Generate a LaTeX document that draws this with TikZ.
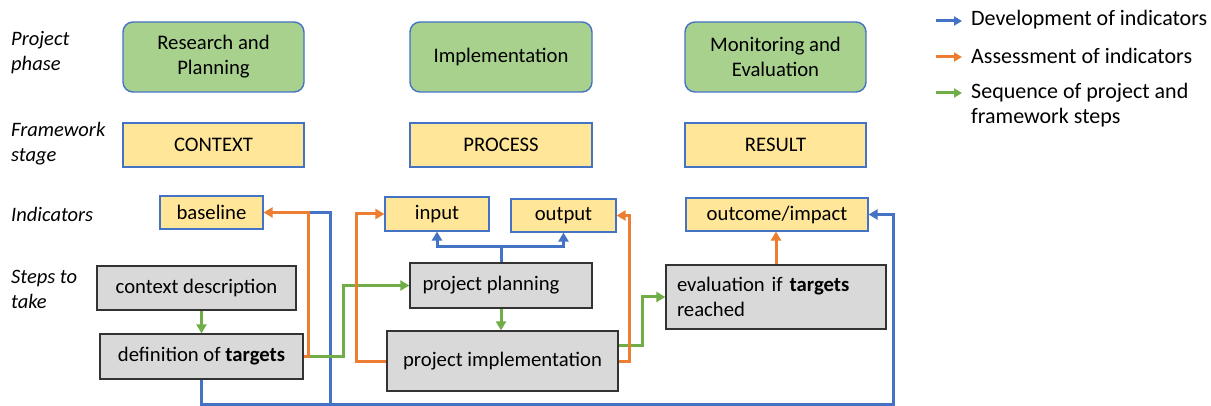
\documentclass[tikz,border=0pt]{standalone}
\usepackage{fontspec}
\setmainfont{Carlito}
\usetikzlibrary{arrows.meta,calc}
\definecolor{cblue}{HTML}{4472C4}
\definecolor{corange}{HTML}{ED7D31}
\definecolor{cgreen}{HTML}{70AD47}
\definecolor{fgreen}{HTML}{A9D18E}
\definecolor{fyellow}{HTML}{FFE699}
\definecolor{fgray}{HTML}{D9D9D9}
\tikzset{
  base/.style={font=\fontsize{20.7}{25}\selectfont, inner sep=0pt, align=center},
  phasebox/.style={base, draw=cblue, line width=1.4pt, fill=fgreen, rounded corners=10pt},
  stagebox/.style={base, draw=cblue, line width=1.2pt, fill=fyellow},
  stepbox/.style={base, draw=black!80, line width=1.3pt, fill=fgray},
  rowlabel/.style={font=\fontsize{20.5}{25}\selectfont\itshape, align=left, anchor=west, inner sep=0pt},
  legtext/.style={font=\fontsize{22}{25.5}\selectfont, align=left, anchor=west, inner sep=0pt},
  tip/.style={-{Triangle[length=9pt,width=10pt]}},
  bline/.style={draw=cblue, line width=3pt},
  oline/.style={draw=corange, line width=3pt},
  gline/.style={draw=cgreen, line width=3pt},
}
\newcommand{\mkbox}[7]{%
  \node[#6, minimum width={#4-#2}, minimum height={#5-#3}] (#1) at ({(#2+#4)/2},{(#3+#5)/2}) {#7};}
\begin{document}
\begin{tikzpicture}[x=1pt,y=-1pt]
\useasboundingbox (0,0) rectangle (1211,406);
% row labels
\node[rowlabel] (lphase) at (11,53) {Project\\phase};
\node[rowlabel] (lstage) at (11,144) {Framework\\stage};
\node[rowlabel] (lind) at (11,214) {Indicators};
\node[rowlabel] (lsteps) at (11,289) {Steps to\\take};
% phases
\mkbox{ph1}{123}{22}{304}{92}{phasebox}{Research and\\Planning}
\mkbox{ph2}{410}{22}{592}{92}{phasebox}{Implementation}
\mkbox{ph3}{685}{22}{866}{92}{phasebox}{Monitoring and\\Evaluation}
% stages
\mkbox{st1}{123}{123}{304}{167}{stagebox}{CONTEXT}
\mkbox{st2}{410}{123}{592}{167}{stagebox}{PROCESS}
\mkbox{st3}{685}{123}{866}{167}{stagebox}{RESULT}
% indicators
\mkbox{baseline}{160}{196}{263}{229}{stagebox}{baseline}
\mkbox{input}{385}{197}{489}{231}{stagebox}{input}
\mkbox{output}{511}{199}{616}{232}{stagebox}{output}
\mkbox{outcome}{686}{198}{868}{231}{stagebox}{outcome/impact}
% steps
\mkbox{ctx}{97}{266}{296}{310}{stepbox}{context description}
\mkbox{def}{100}{334}{303}{379}{stepbox}{definition of \textbf{targets}}
\mkbox{plan}{410}{263}{592}{308}{stepbox}{\hspace*{-20pt}project planning}
\mkbox{impl}{387}{331}{618}{391}{stepbox}{project implementation}
\node[stepbox, minimum width=220, minimum height=64, text width=198, align=left] (eval) at (776,297) {evaluation if \textbf{targets}\\reached};
% blue connectors
\draw[bline, tip] (def.south) -- ++(0,25) -- ++(692,0) |- (outcome.east);
\draw[bline] ($(def.south)+(128.5,25)$) |- ($(baseline.east)+(46,0)$);
\draw[bline] (plan.north) -- ++(0,-16) coordinate (bj);
\draw[bline, tip] (bj) -| (input.south);
\draw[bline, tip] (bj) -| (output.south);
% green connectors
\draw[gline, tip] (def.north |- ctx.south) -- (def.north);
\draw[gline, tip] (def.east) -- ++(40,0) |- (plan.west);
\draw[gline, tip] (plan.south) -- (plan.south |- impl.north);
\draw[gline, tip] ([yshift=16pt]impl.east) -- ++(24,0) |- (eval.west);
% orange connectors
\draw[oline, tip] (def.east) -- ++(5,0) |- (baseline.east);
\draw[oline, tip] (impl.west) -- ++(-30,0) |- (input.west);
\draw[oline, tip] (impl.east) -- ++(11,0) |- (output.east);
\draw[oline, tip] (eval.north) -- (eval.north |- outcome.south);
% legend
\coordinate (lb1) at (936,21); \coordinate (lb2) at (962,21);
\coordinate (lo1) at (936,57); \coordinate (lo2) at (962,57);
\coordinate (lg1) at (936,93); \coordinate (lg2) at (962,93);
\draw[draw=cblue, line width=3pt, -{Triangle[length=8pt,width=9pt]}] (lb1) -- (lb2);
\draw[draw=corange, line width=3pt, -{Triangle[length=8pt,width=9pt]}] (lo1) -- (lo2);
\draw[draw=cgreen, line width=3pt, -{Triangle[length=8pt,width=9pt]}] (lg1) -- (lg2);
\node[legtext] (t1) at (971,20) {Development of indicators};
\node[legtext] (t2) at (971,56) {Assessment of indicators};
\node[legtext] (t3) at (971,105) {Sequence of project and\\framework steps};
\end{tikzpicture}
\end{document}
